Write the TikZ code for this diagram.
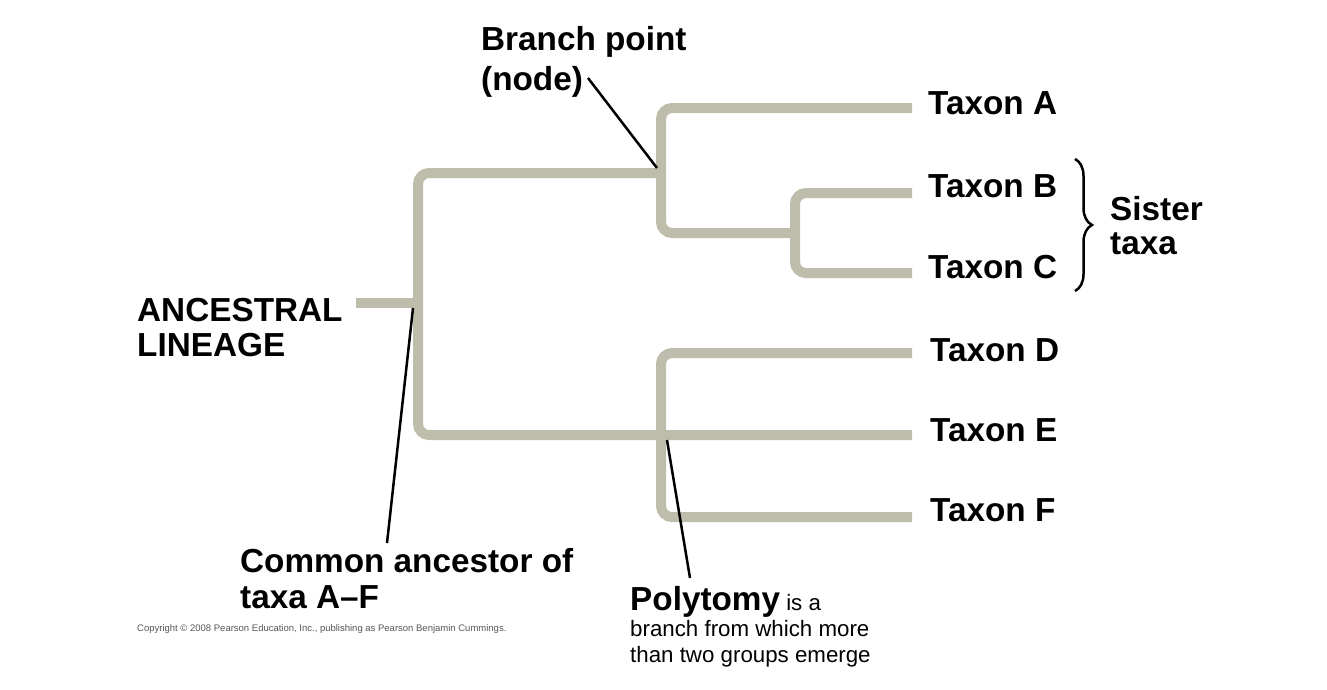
\documentclass[tikz,border=0pt]{standalone}
\usepackage{fontspec}
\setmainfont{Liberation Sans}
\usetikzlibrary{decorations.pathreplacing}
\definecolor{branch}{HTML}{BEBDAB}
\definecolor{copygray}{HTML}{555555}
\begin{document}
\begin{tikzpicture}[x=1pt,y=-1pt,
  branchline/.style={draw=branch,line width=10pt,rounded corners=11pt},
  pointer/.style={draw=black,line width=2.5pt},
  big/.style={font=\fontsize{33.3}{36}\selectfont\bfseries,inner sep=0pt,align=left},
  taxon/.style={big,anchor=west},
  bracestyle/.style={draw=black,line width=2.5pt,decorate,decoration={brace,amplitude=17pt}}]
\useasboundingbox (0,0) rectangle (1327,689);
% tree
\draw[branchline] (356,303) -- (418,303);
\draw[branchline] (661,173) -- (418,173) -- (418,435) -- (912,435);
\draw[branchline] (912,108) -- (661,108) -- (661,233) -- (795,233);
\draw[branchline] (912,193) -- (795,193) -- (795,273) -- (912,273);
\draw[branchline] (912,353) -- (661,353) -- (661,517) -- (912,517);
% taxa
\node[taxon] (ta) at (928,103) {Taxon A};
\node[taxon] (tb) at (928,186) {Taxon B};
\node[taxon] (tc) at (928,267) {Taxon C};
\node[taxon] (td) at (930,350) {Taxon D};
\node[taxon] (te) at (930,430) {Taxon E};
\node[taxon] (tf) at (930,510) {Taxon F};
% sister taxa
\coordinate (brtop) at (1075,159);
\coordinate (brbot) at (1075,291);
\draw[bracestyle] (brtop) -- (brbot);
\node[big,anchor=north west,font=\fontsize{33.3}{34}\selectfont\bfseries] (sister) at (1110,196) {Sister\\taxa};
% labels
\node[big,anchor=north west,font=\fontsize{33.3}{40}\selectfont\bfseries] (bp) at (481,26) {Branch point\\(node)};
\node[big,anchor=north west,font=\fontsize{33.3}{35}\selectfont\bfseries] (anc) at (137,298) {ANCESTRAL\\LINEAGE};
\node[big,anchor=north west] (ca) at (240,548) {Common ancestor of\\taxa A\textendash F};
\node[inner sep=0pt,anchor=north west,align=left,font=\fontsize{22.3}{26}\selectfont] (poly) at (630,586)
  {{\fontsize{33.3}{33}\selectfont\bfseries Polytomy} is a\\branch from which more\\than two groups emerge};
\node[inner sep=0pt,anchor=west,text=copygray,font=\fontsize{9.5}{11}\selectfont] (copy) at (137,629)
  {Copyright \textcopyright{} 2008 Pearson Education, Inc., publishing as Pearson Benjamin Cummings.};
% pointers
\coordinate (bpstart) at (588,78);
\coordinate (bpnode) at (657,168);
\coordinate (castart) at (387,543);
\coordinate (canode) at (413,308);
\coordinate (polystart) at (690,578);
\coordinate (polynode) at (667,440);
\draw[pointer] (bpstart) -- (bpnode);
\draw[pointer] (castart) -- (canode);
\draw[pointer] (polystart) -- (polynode);
\end{tikzpicture}
\end{document}
